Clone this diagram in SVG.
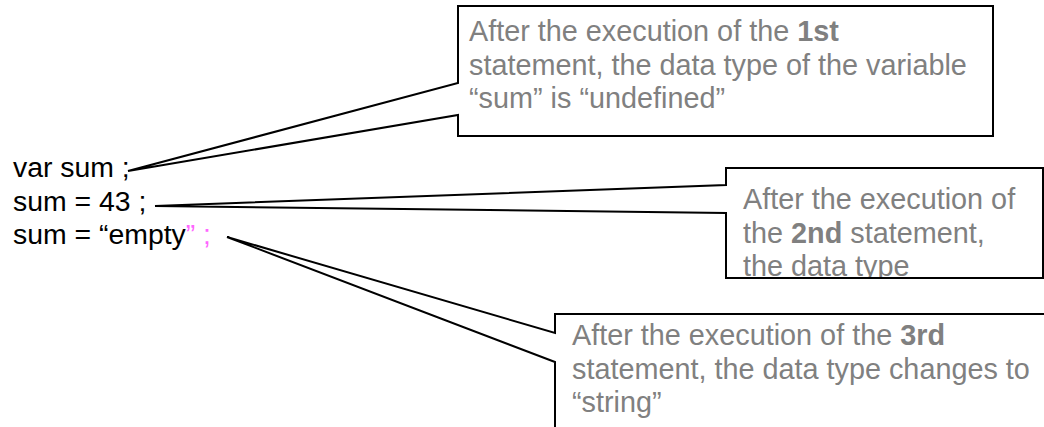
<svg xmlns="http://www.w3.org/2000/svg" width="1044" height="427" viewBox="0 0 1044 427">
<style>
.code{font-family:"Liberation Sans",Arial,sans-serif;font-size:28.4px;fill:#000}
.note{font-family:"Liberation Sans",Arial,sans-serif;font-size:28.8px;fill:#808080}
.b{font-weight:bold}
.callout{fill:#fff;stroke:#000;stroke-width:2;stroke-linejoin:miter}
.pink{fill:#ff66ff}
</style>
<defs>
<clipPath id="clip2"><rect x="727" y="169" width="315" height="108"/></clipPath>
</defs>
<rect width="1044" height="427" fill="#fff"/>
<g id="code">
<text class="code" x="13" y="177">var sum ;</text>
<text class="code" x="13" y="210.5">sum = 43 ;</text>
<text class="code" x="13" y="243.5">sum = “empty<tspan class="pink">” ;</tspan></text>
</g>
<g id="connectors">
<path class="callout" d="M458,6 H993 V136 H458 V115 L128,171 L458,83 Z"/>
<path class="callout" d="M726,168 H1043 V278 H726 V213 L155,206 L726,185 Z"/>
<path class="callout" d="M555,314 H1050 V435 H555 V362 L227,237 L555,333 Z"/>
</g>
<g id="note1">
<text class="note" x="469" y="41">After the execution of the <tspan class="b">1st</tspan></text>
<text class="note" x="469" y="74.5">statement, the data type of the variable</text>
<text class="note" x="469" y="108">“sum” is “undefined”</text>
</g>
<g id="note2" clip-path="url(#clip2)">
<text class="note" x="743" y="209">After the execution of</text>
<text class="note" x="743" y="242.5">the <tspan class="b">2nd</tspan> statement,</text>
<text class="note" x="743" y="276">the data type</text>
</g>
<g id="note3">
<text class="note" x="572" y="345">After the execution of the <tspan class="b">3rd</tspan></text>
<text class="note" x="572" y="378.5">statement, the data type changes to</text>
<text class="note" x="572" y="412">“string”</text>
</g>
</svg>
